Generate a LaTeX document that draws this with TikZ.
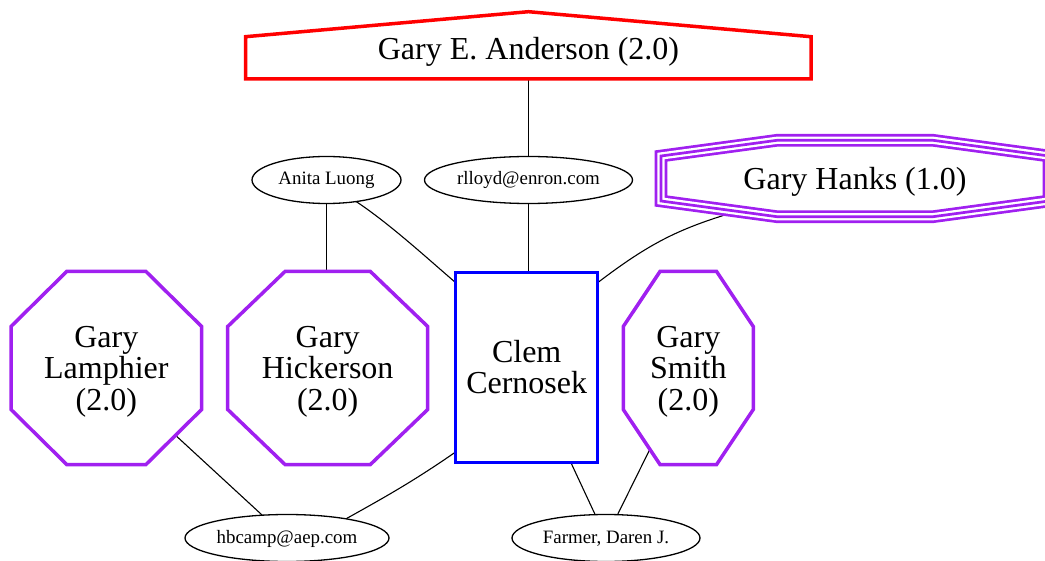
\documentclass[tikz,border=0pt]{standalone}
\usepackage{fontspec}
\setmainfont{Liberation Serif}
\usetikzlibrary{shapes.geometric}
\pgfdeclarelayer{edgelayer}
\pgfsetlayers{edgelayer,main}
\definecolor{gvpurple}{HTML}{A020F0}
\definecolor{gvblue}{HTML}{0000FF}
\definecolor{gvred}{HTML}{FF0000}
\newcommand\lblbig{\fontsize{32}{31.5}\selectfont}
\newcommand\lblsmall{\fontsize{18.9}{22}\selectfont}

\begin{document}
\begin{tikzpicture}[x=1pt,y=-1pt,
  every node/.style={outer sep=0pt, inner sep=0pt},
  bigtext/.style={font=\lblbig, align=center},
  mailnode/.style={ellipse, draw=black, line width=1.3pt, fill=white,
    font=\lblsmall, minimum height=47pt, text height=15pt, text depth=5pt},
  octo/.style={draw=gvpurple, line width=3.5pt, fill=white, line join=miter},
  link/.style={draw=black, line width=1.1pt},
]
\clip (0,0) rectangle (1045,561);

% house-shaped node at the top
\draw[draw=gvred, line width=3.5pt, fill=white, line join=miter]
  (245.5,36.7) -- (528.5,11.7) -- (811,36.7) -- (811,79) -- (245.5,79) -- cycle;
\node[font=\lblbig, anchor=base] (anderson) at (528.5,59.3) {Gary E. Anderson (2.0)};

% upper ellipses
\node[mailnode, minimum width=149pt] (anita) at (326.5,180) {Anita Luong};
\node[mailnode, minimum width=208pt] (rlloyd) at (528.5,180) {rlloyd@enron.com};

% triple-bordered octagon
\def\hankspath{(661,156) -- (777,140.3) -- (933,140.3) -- (1049,156) -- (1049,201) -- (933,216.7) -- (777,216.7) -- (661,201) -- cycle}
\draw[gvpurple, line width=12.7pt, fill=white, line join=miter] \hankspath;
\draw[white, line width=7.3pt, line join=miter] \hankspath;
\draw[gvpurple, line width=2.7pt, line join=miter] \hankspath;
\node[font=\lblbig, anchor=base] (hanks) at (855,190) {Gary Hanks (1.0)};

% octagons of the middle row
\draw[octo] (11,326.5) -- (66.7,271.5) -- (146,271.5) -- (201.6,326.5) -- (201.6,409.5)
  -- (146,464.5) -- (66.7,464.5) -- (11,409.5) -- cycle;
\node[bigtext] (lamph) at (106.3,371.5) {Gary\\Lamphier\\(2.0)};

\draw[octo] (227.7,326.5) -- (285,271.5) -- (370.4,271.5) -- (427.7,326.5) -- (427.7,409.5)
  -- (370.4,464.5) -- (285,464.5) -- (227.7,409.5) -- cycle;
\node[bigtext] (hick) at (327.7,371.5) {Gary\\Hickerson\\(2.0)};

\draw[octo] (623.3,326.5) -- (660,271.5) -- (716.6,271.5) -- (753.3,326.5) -- (753.3,409.5)
  -- (716.6,464.5) -- (660,464.5) -- (623.3,409.5) -- cycle;
\node[bigtext] (smith) at (688.3,371.5) {Gary\\Smith\\(2.0)};

% central box
\node[draw=gvblue, line width=3.5pt, fill=white, minimum width=142pt, minimum height=190pt,
  bigtext] (clem) at (526.7,367.3) {Clem\\Cernosek};

% lower ellipses
\node[mailnode, minimum width=204pt] (hbcamp) at (287,538) {hbcamp@aep.com};
\node[mailnode, minimum width=188pt] (farmer) at (606,538) {Farmer, Daren J.};

% connectors
\begin{pgfonlayer}{edgelayer}
\draw[link] (anderson) -- (rlloyd);
\draw[link] (rlloyd) -- (rlloyd |- clem.north);
\draw[link] (anita) -- (anita |- hick.north);
\draw[link] (anita.-36) .. controls (390,224) and (428,259) .. (clem.130.8);
\draw[link] (clem.50.9) .. controls (649,243.5) and (678,229.5) .. (728,214) -- (hanks);
\draw[link] (clem.230.7) .. controls (413,481.5) and (386,496.5) .. (hbcamp.18.6);
\draw[link] (lamph) -- (hbcamp);
\draw[link] (clem) -- (farmer);
\draw[link] (smith) -- (farmer);
\end{pgfonlayer}
\end{tikzpicture}
\end{document}
